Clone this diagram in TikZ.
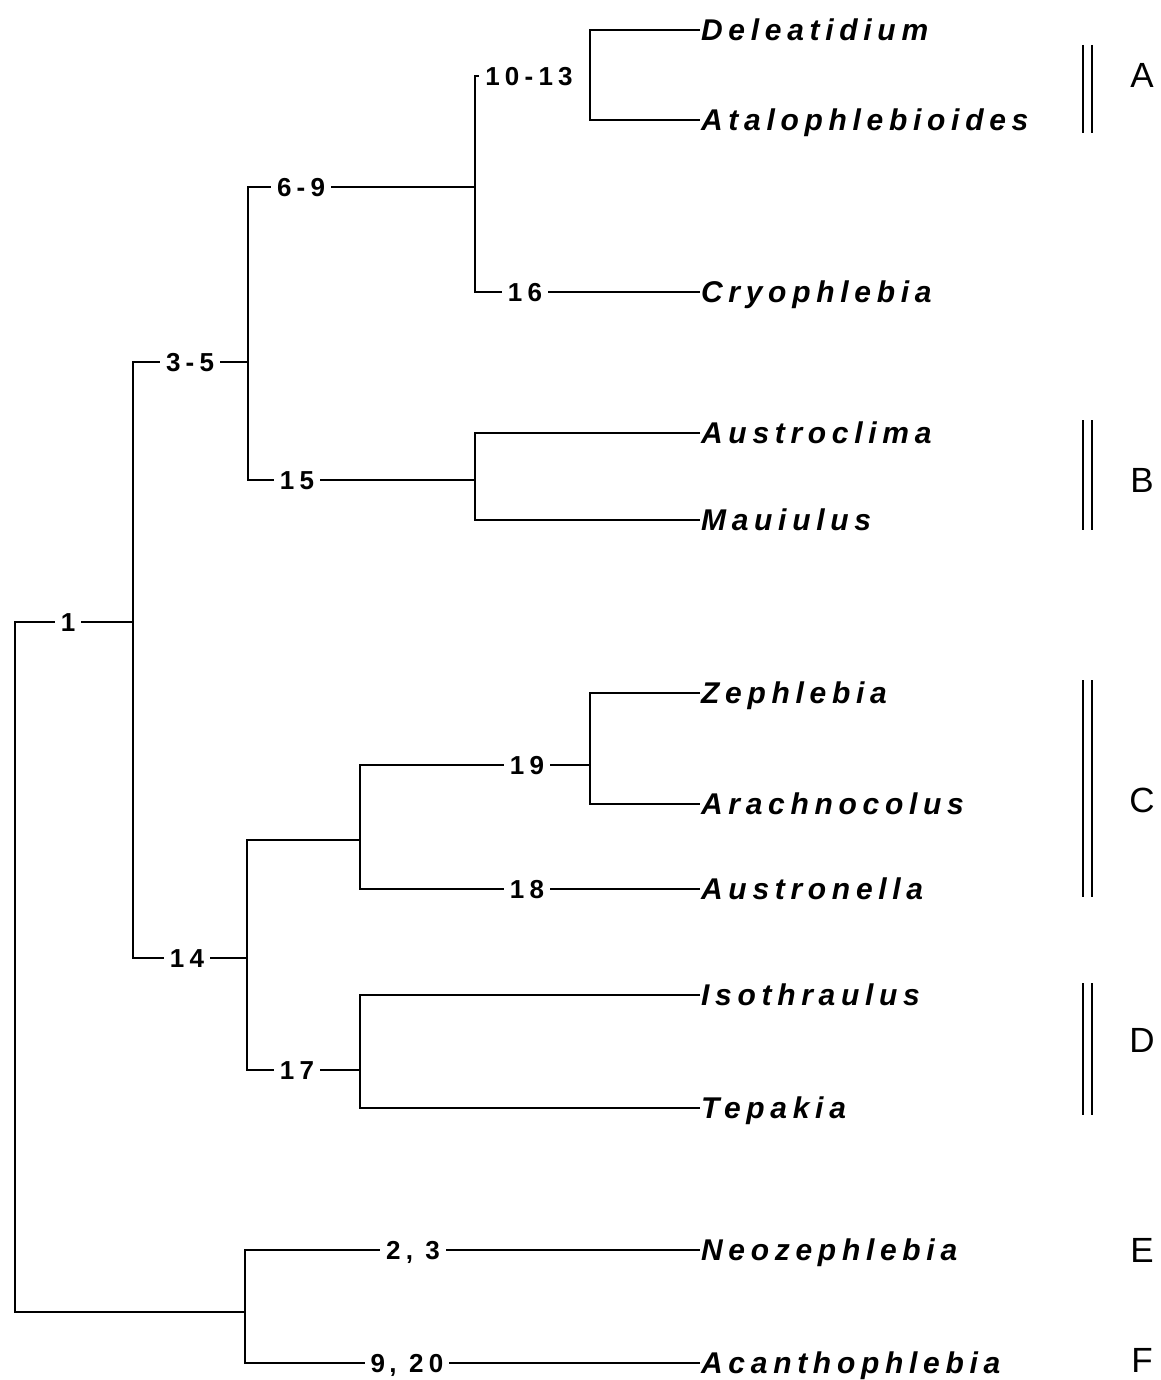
\documentclass[tikz,border=0pt]{standalone}
\usepackage{fontspec}
\setmainfont{Liberation Sans}
\newfontfamily\taxfont[LetterSpace=19]{Liberation Sans}
\newfontfamily\numfont[LetterSpace=20]{Liberation Sans}
\begin{document}
\begin{tikzpicture}[x=1pt,y=-1pt,line width=2.3pt,
  tax/.style={anchor=west,inner sep=0pt,text height=21pt,text depth=0pt,
    font=\fontsize{30}{30}\taxfont\bfseries\itshape},
  num/.style={inner xsep=5pt,inner ysep=0pt,text height=19pt,text depth=0pt,
    font=\fontsize{26}{26}\numfont\bfseries},
  grp/.style={inner sep=0pt,font=\fontsize{35}{35}\selectfont},
  bar/.style={line width=1.8pt}]
\useasboundingbox[fill=white] (0,0) rectangle (1160,1380);

% leaves
\node[tax] (del) at (700,30) {Deleatidium};
\node[tax] (ata) at (700,120) {Atalophlebioides};
\node[tax] (cry) at (700,292) {Cryophlebia};
\node[tax] (aus) at (700,433) {Austroclima};
\node[tax] (mau) at (700,520) {Mauiulus};
\node[tax] (zep) at (700,693) {Zephlebia};
\node[tax] (ara) at (700,804) {Arachnocolus};
\node[tax] (asn) at (700,889) {Austronella};
\node[tax] (iso) at (700,995) {Isothraulus};
\node[tax] (tep) at (700,1108) {Tepakia};
\node[tax] (neo) at (700,1250) {Neozephlebia};
\node[tax] (aca) at (700,1363) {Acanthophlebia};

% branch labels
\node[num] (l1013) at (529,76) {10-13};
\node[num] (l69) at (301,187) {6-9};
\node[num] (l16) at (525,292) {16};
\node[num] (l35) at (190,362) {3-5};
\node[num] (l15) at (297,480) {15};
\node[num] (l1) at (68,622) {1};
\node[num] (l19) at (527,765) {19};
\node[num] (l18) at (527,889) {18};
\node[num] (l14) at (187,958) {14};
\node[num] (l17) at (297,1070) {17};
\node[num] (l23) at (413,1250) {2,~3};
\node[num] (l920) at (407,1363) {9\,,~20};

% junctions
\coordinate (j1013) at (590,75);
\coordinate (j69) at (475,187);
\coordinate (j35) at (248,362);
\coordinate (j15) at (475,480);
\coordinate (j1) at (133,622);
\coordinate (j19) at (590,765);
\coordinate (jC) at (360,840);
\coordinate (j14) at (247,958);
\coordinate (j17) at (360,1070);
\coordinate (jroot) at (15,1312);
\coordinate (jEF) at (245,1312);

% tree
\draw (del.west) -| (j1013) |- (ata.west);
\draw (l1013.west) -| (j69) |- (l16.west);
\draw (l16.east) -- (cry.west);
\draw (l69.east) -- (j69);
\draw (l69.west) -| (j35) |- (l15.west);
\draw (l15.east) -- (j15);
\draw (aus.west) -| (j15) |- (mau.west);
\draw (l35.east) -- (j35);
\draw (l35.west) -| (j1) |- (l14.west);
\draw (l1.east) -- (j1);
\draw (l14.east) -- (j14);
\draw (jC) -| (j14) |- (l17.west);
\draw (l19.west) -| (jC) |- (l18.west);
\draw (l19.east) -- (j19);
\draw (zep.west) -| (j19) |- (ara.west);
\draw (l18.east) -- (asn.west);
\draw (l17.east) -- (j17);
\draw (iso.west) -| (j17) |- (tep.west);
\draw (l1.west) -| (jroot) -- (jEF);
\draw (l23.west) -| (jEF) |- (l920.west);
\draw (l23.east) -- (neo.west);
\draw (l920.east) -- (aca.west);

% group bars
\draw[bar] (1083,45) -- (1083,133);
\draw[bar] (1092,45) -- (1092,133);
\draw[bar] (1083,420) -- (1083,530);
\draw[bar] (1092,420) -- (1092,530);
\draw[bar] (1083,680) -- (1083,897);
\draw[bar] (1092,680) -- (1092,897);
\draw[bar] (1083,983) -- (1083,1115);
\draw[bar] (1092,983) -- (1092,1115);

% group letters
\node[grp] (gA) at (1142,75) {A};
\node[grp] (gB) at (1142,480) {B};
\node[grp] (gC) at (1142,800) {C};
\node[grp] (gD) at (1142,1040) {D};
\node[grp] (gE) at (1142,1250) {E};
\node[grp] (gF) at (1142,1360) {F};
\end{tikzpicture}
\end{document}
